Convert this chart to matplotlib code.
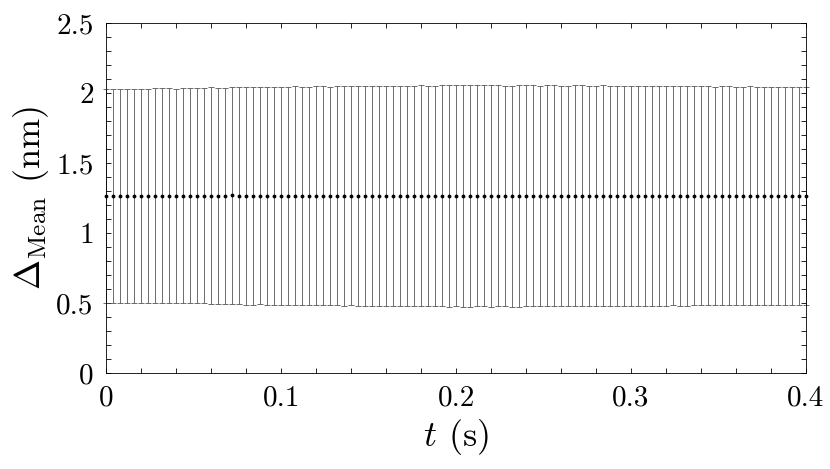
import numpy as np
import matplotlib
matplotlib.use("Agg")
import matplotlib.pyplot as plt
from matplotlib.ticker import MultipleLocator

plt.rcParams['font.family'] = 'serif'
plt.rcParams['font.serif'] = ['cmr10']
plt.rcParams['mathtext.fontset'] = 'cm'
plt.rcParams['axes.formatter.use_mathtext'] = True

# sampling times (s), 0.004 s step
t = np.arange(101) * 0.004

# mean displacement (nm)
mean = [
    1.266, 1.265, 1.266, 1.264, 1.265, 1.265, 1.264, 1.266, 1.265, 1.266,
    1.264, 1.266, 1.265, 1.266, 1.267, 1.267, 1.264, 1.265, 1.268, 1.266,
    1.264, 1.265, 1.266, 1.264, 1.266, 1.265, 1.265, 1.266, 1.264, 1.265,
    1.267, 1.265, 1.265, 1.266, 1.263, 1.265, 1.266, 1.265, 1.266, 1.264,
    1.265, 1.266, 1.265, 1.264, 1.266, 1.265, 1.264, 1.266, 1.265, 1.265,
    1.266, 1.264, 1.265, 1.267, 1.265, 1.264, 1.266, 1.265, 1.263, 1.264,
    1.266, 1.265, 1.264, 1.265, 1.266, 1.265, 1.264, 1.266, 1.265, 1.264,
    1.265, 1.266, 1.266, 1.264, 1.265, 1.266, 1.265, 1.264, 1.266, 1.265,
    1.264, 1.266, 1.265, 1.264, 1.265, 1.266, 1.265, 1.264, 1.266, 1.265,
    1.264, 1.265, 1.266, 1.264, 1.265, 1.266, 1.265, 1.264, 1.265, 1.264, 1.265]

# standard deviation (nm)
err = [
    0.765, 0.766, 0.764, 0.766, 0.765, 0.766, 0.767, 0.766, 0.767, 0.768,
    0.767, 0.768, 0.769, 0.770, 0.771, 0.773, 0.774, 0.773, 0.775, 0.776,
    0.776, 0.777, 0.775, 0.778, 0.779, 0.780, 0.779, 0.781, 0.782, 0.781,
    0.782, 0.783, 0.781, 0.784, 0.785, 0.783, 0.786, 0.785, 0.787, 0.786,
    0.785, 0.787, 0.788, 0.786, 0.787, 0.789, 0.788, 0.787, 0.790, 0.791,
    0.789, 0.790, 0.792, 0.790, 0.789, 0.791, 0.790, 0.788, 0.789, 0.791,
    0.790, 0.789, 0.788, 0.790, 0.789, 0.787, 0.788, 0.790, 0.789, 0.787,
    0.786, 0.788, 0.787, 0.785, 0.786, 0.787, 0.785, 0.784, 0.786, 0.785,
    0.783, 0.784, 0.785, 0.783, 0.782, 0.784, 0.783, 0.781, 0.782, 0.783,
    0.781, 0.780, 0.782, 0.781, 0.780, 0.779, 0.781, 0.780, 0.778, 0.779, 0.780]

fig = plt.figure(figsize=(8.3, 4.69), dpi=100)
ax = fig.add_axes([0.128, 0.205, 0.843, 0.746])

ax.errorbar(t, mean, yerr=err, fmt='.', color='black', ms=3.5,
            ecolor='#555555', elinewidth=0.6, capsize=2.5, capthick=0.6,
            clip_on=False)

ax.set_xlim(0, 0.4)
ax.set_ylim(0, 2.5)
ax.xaxis.set_major_locator(MultipleLocator(0.1))
ax.xaxis.set_minor_locator(MultipleLocator(0.02))
ax.yaxis.set_major_locator(MultipleLocator(0.5))
ax.yaxis.set_minor_locator(MultipleLocator(0.1))
ax.xaxis.set_major_formatter(plt.FuncFormatter(lambda v, p: '%g' % round(v, 2)))
ax.yaxis.set_major_formatter(plt.FuncFormatter(lambda v, p: '%g' % round(v, 2)))

ax.tick_params(which='both', direction='in', top=True, right=True,
               length=3.5, width=0.6, labelsize=21, pad=9)
for s in ax.spines.values():
    s.set_linewidth(0.6)

ax.set_xlabel(r'$t$ (s)', fontsize=26, labelpad=4)
ax.set_ylabel(r'$\Delta_{\mathrm{Mean}}$ (nm)', fontsize=26, labelpad=4)

fig.savefig('out.png', dpi=100)
